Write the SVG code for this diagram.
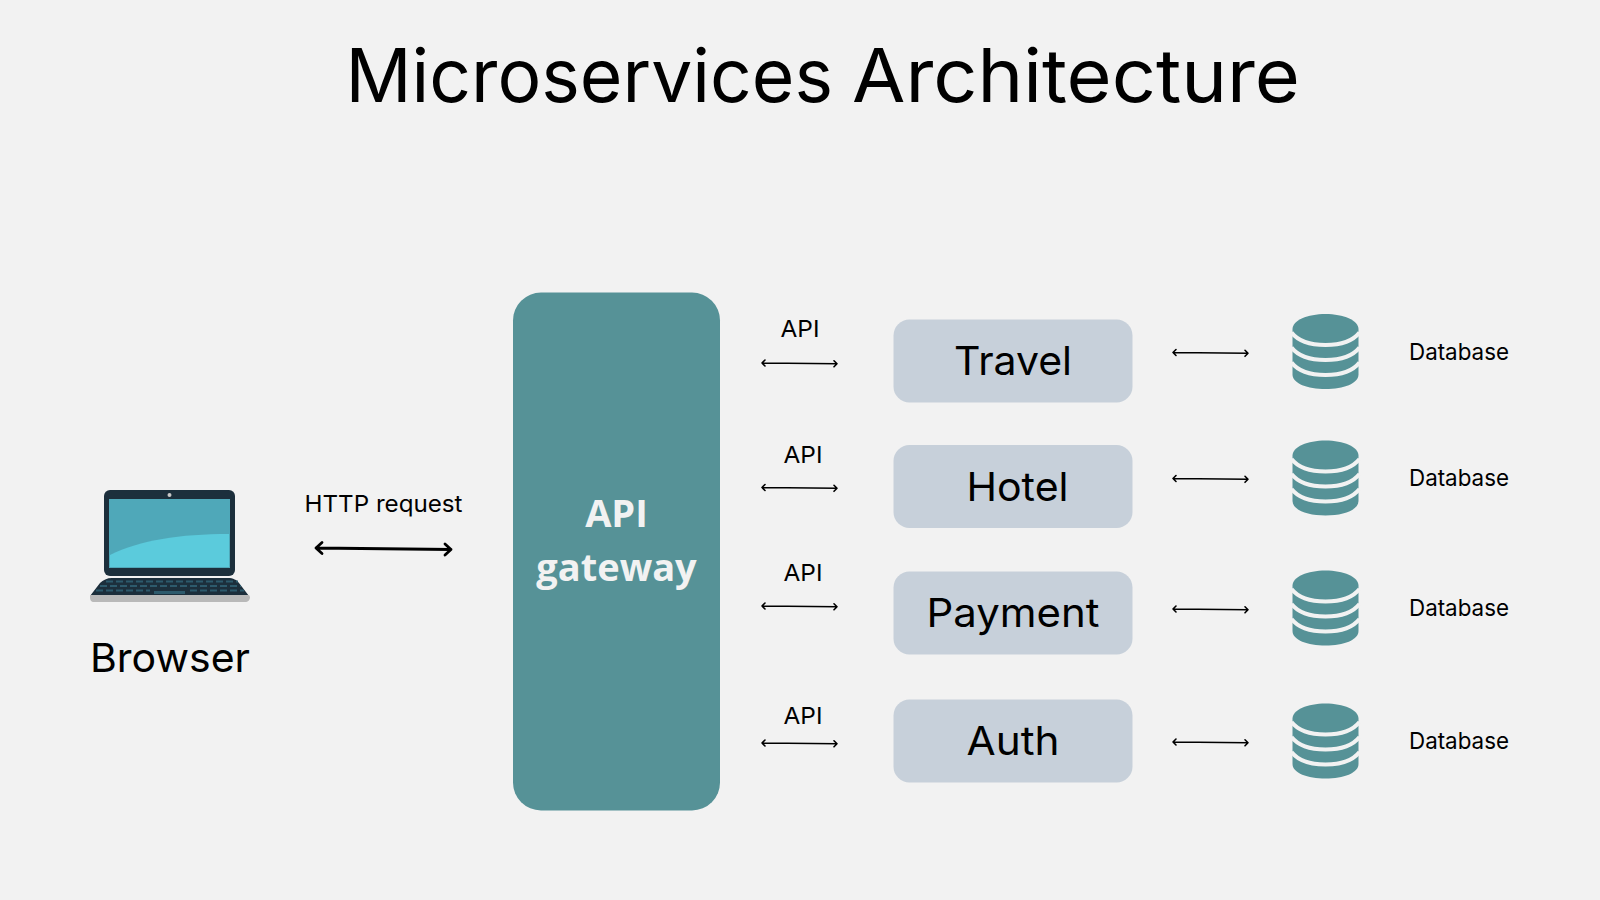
<svg xmlns="http://www.w3.org/2000/svg" width="1600" height="900" viewBox="0 0 1600 900">
<style>
text{font-family:"Inter","Roboto","Liberation Sans",sans-serif;fill:#000}
.title{font-size:74px}
.svc{font-size:40px;text-anchor:middle}
.small{font-size:23.5px}
.gw{font-family:"Open Sans","Liberation Sans",sans-serif;font-weight:700;font-size:38px;text-anchor:middle;fill:#f2f2f2}
.box{fill:#c7d0da}
.con{fill:none;stroke:#000;stroke-width:1.6;stroke-linecap:round;stroke-linejoin:round}
.thick{stroke-width:2.8}
.db{fill:#569297}
.gap{fill:none;stroke:#f2f2f2;stroke-width:4}
.keys{fill:none;stroke:#2d5a6c;stroke-width:2;stroke-dasharray:7 3}
</style>
<defs>
<g id="dbicon">
<path class="db" d="M-33-22.500C-33-31-18-37.500 0-37.500S33-31 33-22.500V23C33 32 18 37.500 0 37.500S-33 32-33 23Z"/>
<path class="gap" d="M-34-19C-27-10-13-6.500 0-6.500S27-10 34-19"/>
<path class="gap" d="M-34-4C-27 5-13 8.500 0 8.500S27 5 34-4"/>
<path class="gap" d="M-34 11C-27 20-13 23.500 0 23.500S27 20 34 11"/>
</g>
<g id="arr">
<path class="con" d="M0 0L75 0.800M3 -3L0 0L3 3M72 -2.200L75 0.800L72 3.800"/>
</g>
</defs>
<rect width="1600" height="900" fill="#f2f2f2"/>
<text class="title" y="102"><tspan x="345.500" textLength="487.500" lengthAdjust="spacingAndGlyphs">Microservices</tspan> <tspan x="852" textLength="448" lengthAdjust="spacingAndGlyphs">Architecture</tspan></text>
<g id="browser">
<rect x="104" y="490" width="131" height="86" rx="6" fill="#1c2f3c"/>
<rect x="109" y="499" width="121" height="69" fill="#4fa8b9"/>
<path d="M110 555C140 540 180 534 229 534V567H110Z" fill="#5bcbdc"/>
<circle cx="169.500" cy="495" r="2" fill="#c8c8c8"/>
<path d="M112 578H228C233 578 237 580 239 583L249 596H90L100 583C103 580 107 578 112 578Z" fill="#1c2f3c"/>
<path d="M150 576H190V578H150Z" fill="#e8e8e8"/>
<path class="keys" d="M106 581.500H238M100 586H241M96 590.500H150M190 590.500H244"/>
<rect x="154" y="591" width="31" height="3" fill="#2d5a6c"/>
<path d="M90 595H249L250 597C250 600 248 602 245 602H94C91 602 90 600 90 597Z" fill="#b9b9b9"/>
<text class="svc" x="170" y="672" textLength="160" lengthAdjust="spacingAndGlyphs">Browser</text>
</g>
<g id="gateway">
<rect x="513" y="292.500" width="207" height="518" rx="28" fill="#569297"/>
<text class="gw" x="616.500" y="527">API</text>
<text class="gw" x="616.500" y="581">gateway</text>
</g>
<g id="travel"><rect class="box" x="893.500" y="319.500" width="239" height="83" rx="16"/><text class="svc" x="1013" y="375" textLength="118" lengthAdjust="spacingAndGlyphs">Travel</text></g>
<g id="hotel"><rect class="box" x="893.500" y="445" width="239" height="83" rx="16"/><text class="svc" x="1017.500" y="501" textLength="102" lengthAdjust="spacingAndGlyphs">Hotel</text></g>
<g id="payment"><rect class="box" x="893.500" y="571.500" width="239" height="83" rx="16"/><text class="svc" x="1013" y="627" textLength="173" lengthAdjust="spacingAndGlyphs">Payment</text></g>
<g id="auth"><rect class="box" x="893.500" y="699.500" width="239" height="83" rx="16"/><text class="svc" x="1013" y="755" textLength="93" lengthAdjust="spacingAndGlyphs">Auth</text></g>
<g id="db1"><use href="#dbicon" x="1325.500" y="351.500"/><text class="small" x="1409" y="360" textLength="100" lengthAdjust="spacingAndGlyphs">Database</text></g>
<g id="db2"><use href="#dbicon" x="1325.500" y="478"/><text class="small" x="1409" y="486" textLength="100" lengthAdjust="spacingAndGlyphs">Database</text></g>
<g id="db3"><use href="#dbicon" x="1325.500" y="608"/><text class="small" x="1409" y="616" textLength="100" lengthAdjust="spacingAndGlyphs">Database</text></g>
<g id="db4"><use href="#dbicon" x="1325.500" y="741"/><text class="small" x="1409" y="749" textLength="100" lengthAdjust="spacingAndGlyphs">Database</text></g>
<g id="connectors">
<path class="con thick" d="M316 548L451 549.500M322 542.500L316 548L322 553.500M445 544L451 549.500L445 555"/>
<use href="#arr" x="762" y="363"/>
<use href="#arr" x="762" y="487.500"/>
<use href="#arr" x="762" y="606"/>
<use href="#arr" x="762" y="743"/>
<use href="#arr" x="1173" y="352.500"/>
<use href="#arr" x="1173" y="478.500"/>
<use href="#arr" x="1173" y="609"/>
<use href="#arr" x="1173" y="742"/>
</g>
<g id="labels">
<text class="small" x="383.500" y="512" text-anchor="middle" textLength="158" lengthAdjust="spacingAndGlyphs">HTTP request</text>
<text class="small" x="800" y="337" text-anchor="middle" textLength="39" lengthAdjust="spacingAndGlyphs">API</text>
<text class="small" x="803" y="463" text-anchor="middle" textLength="39" lengthAdjust="spacingAndGlyphs">API</text>
<text class="small" x="803" y="581" text-anchor="middle" textLength="39" lengthAdjust="spacingAndGlyphs">API</text>
<text class="small" x="803" y="724" text-anchor="middle" textLength="39" lengthAdjust="spacingAndGlyphs">API</text>
</g>
</svg>
